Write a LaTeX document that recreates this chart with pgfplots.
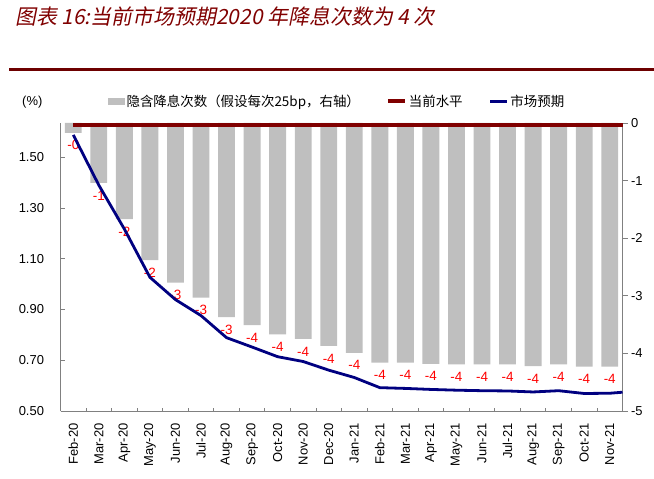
\documentclass[border=0pt]{standalone}
\usepackage{pgfplots}
\usepackage{pgfplotstable}
\pgfplotsset{compat=1.18}
\usepackage{fontspec}
\setmainfont{Liberation Sans}
\newfontfamily\cjk{Noto Sans CJK SC}
\newfontfamily\cjktitle[FakeSlant=0.2]{Noto Sans CJK SC}

\definecolor{titlered}{RGB}{128,0,0}
\definecolor{bargray}{RGB}{191,191,191}
\definecolor{navyline}{RGB}{0,0,128}
\definecolor{levelred}{RGB}{128,0,0}
\definecolor{axisgray}{RGB}{128,128,128}

% implied number of cuts (right axis)
\pgfplotstableread{
x  y     lab
0  -0.17 -0
1  -1.04 -1
2  -1.67 -2
3  -2.38 -2
4  -2.77 -3
5  -3.03 -3
6  -3.37 -3
7  -3.51 -4
8  -3.67 -4
9  -3.75 -4
10 -3.87 -4
11 -3.99 -4
12 -4.16 -4
13 -4.16 -4
14 -4.18 -4
15 -4.19 -4
16 -4.19 -4
17 -4.19 -4
18 -4.22 -4
19 -4.19 -4
20 -4.23 -4
21 -4.23 -4
}\cutsdata

% market expectation (left axis)
\pgfplotstableread{
x    y
0    1.588
1    1.390
2    1.217
3    1.027
4    0.939
5    0.876
6    0.789
7    0.752
8    0.714
9    0.695
10   0.661
11   0.632
12   0.592
13   0.589
14   0.585
15   0.582
16   0.580
17   0.579
18   0.575
19   0.580
20   0.569
21   0.570
21.5 0.574
}\marketdata

\pgfplotsset{
  common/.style={
    at={(60.5bp,68bp)}, anchor=south west,
    scale only axis, width=562bp, height=288bp,
    xmin=-0.5, xmax=21.5,
    axis line style={axisgray, line width=0.8bp},
    every tick/.style={axisgray, line width=0.8bp},
    /pgf/number format/assume math mode=true,
    ticklabel style={font=\fontsize{13}{15}\selectfont},
  },
}

\begin{document}
\begin{tikzpicture}
\path[use as bounding box] (0,0) rectangle (654bp,479bp);

\node[anchor=west, inner sep=0, text=titlered,
      font=\cjktitle\fontsize{21}{25}\selectfont] at (15bp,462.5bp)
  {图表 16:当前市场预期2020 年降息次数为 4 次};
\draw[titlered!85!black, line width=3bp] (9bp,409.5bp) -- (654bp,409.5bp);
\node[anchor=west, inner sep=0, font=\fontsize{13}{15}\selectfont] at (22bp,377bp) {(\%)};

% bars on the right axis
\begin{axis}[common,
    ymin=-5, ymax=0,
    axis x line=none, axis y line*=right,
    ytick={-5,-4,-3,-2,-1,0},
    tick align=outside, major tick length=5bp,
    yticklabel style={anchor=west},
    ybar, bar width=0.66,
    nodes near coords, point meta=explicit symbolic,
    every node near coord/.append style={font=\fontsize{13.5}{15}\selectfont, text=red,
                                         anchor=center, yshift=-12.5bp},
  ]
  \addplot[fill=bargray, draw=none] table[x=x, y=y, meta=lab]{\cutsdata};
\end{axis}

% lines on the left axis
\begin{axis}[common,
    ymin=0.5, ymax=1.635,
    axis y line*=left, axis x line*=bottom,
    tick align=inside, major tick length=4bp, minor tick length=3bp,
    clip=false,
    ytick={0.5,0.7,0.9,1.1,1.3,1.5},
    yticklabel style={xshift=-13bp, /pgf/number format/.cd, fixed, fixed zerofill, precision=2},
    xtick={0,...,21},
    xticklabels={Feb-20,Mar-20,Apr-20,May-20,Jun-20,Jul-20,Aug-20,Sep-20,Oct-20,Nov-20,Dec-20,
                 Jan-21,Feb-21,Mar-21,Apr-21,May-21,Jun-21,Jul-21,Aug-21,Sep-21,Oct-21,Nov-21},
    major x tick style={draw=none},
    minor xtick={0.5,1.5,...,20.5},
    xticklabel style={rotate=90, anchor=east},
    xticklabel shift=9bp,
    legend columns=3,
    legend style={at={(0.0845,1.0747)}, anchor=west, draw=none, fill=none, inner sep=0,
                  font=\cjk\fontsize{13.5}{15}\selectfont,
                  /tikz/every even column/.append style={column sep=24bp},
                  /tikz/column 2/.append style={column sep=28bp}},
  ]
  \addlegendimage{legend image code/.code={\fill[bargray] (0bp,-3bp) rectangle (16bp,3bp);}}
  \addlegendentry{隐含降息次数（假设每次25bp，右轴）}
  \addplot[levelred, line width=4bp] coordinates {(0,1.628) (21.5,1.628)};
  \addlegendentry{当前水平}
  \addplot[navyline, line width=2.8bp] table[x=x, y=y]{\marketdata};
  \addlegendentry{市场预期}
\end{axis}
\end{tikzpicture}
\end{document}
